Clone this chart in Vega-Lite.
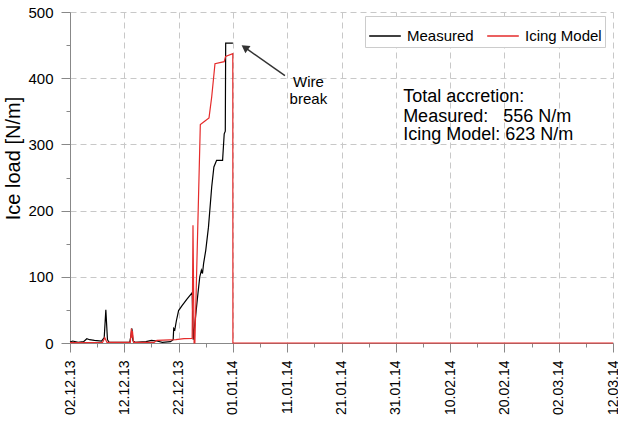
{
  "$schema": "https://vega.github.io/schema/vega-lite/v6.json",
  "width": 543,
  "height": 331,
  "autosize": {"type": "none"},
  "padding": {"left": 70, "top": 12, "right": 5, "bottom": 80},
  "background": "white",
  "config": {"font": "Liberation Sans", "view": {"stroke": null}},
  "datasets": {
    "measured": [
      {"date": "2013-12-02T00:00Z", "load": 1.5, "series": "Measured"},
      {"date": "2013-12-02T12:00Z", "load": 3, "series": "Measured"},
      {"date": "2013-12-03T12:00Z", "load": 1, "series": "Measured"},
      {"date": "2013-12-04T12:00Z", "load": 2, "series": "Measured"},
      {"date": "2013-12-05T02:24Z", "load": 6.5, "series": "Measured"},
      {"date": "2013-12-05T14:24Z", "load": 5, "series": "Measured"},
      {"date": "2013-12-06T12:00Z", "load": 4, "series": "Measured"},
      {"date": "2013-12-07T19:12Z", "load": 3, "series": "Measured"},
      {"date": "2013-12-08T07:12Z", "load": 8, "series": "Measured"},
      {"date": "2013-12-08T14:24Z", "load": 50, "series": "Measured"},
      {"date": "2013-12-08T21:36Z", "load": 5, "series": "Measured"},
      {"date": "2013-12-09T04:48Z", "load": 1, "series": "Measured"},
      {"date": "2013-12-11T00:00Z", "load": 1, "series": "Measured"},
      {"date": "2013-12-13T00:00Z", "load": 1, "series": "Measured"},
      {"date": "2013-12-13T04:48Z", "load": 10, "series": "Measured"},
      {"date": "2013-12-13T09:36Z", "load": 22, "series": "Measured"},
      {"date": "2013-12-13T14:24Z", "load": 3, "series": "Measured"},
      {"date": "2013-12-14T00:00Z", "load": 1, "series": "Measured"},
      {"date": "2013-12-16T00:00Z", "load": 2, "series": "Measured"},
      {"date": "2013-12-17T00:00Z", "load": 4, "series": "Measured"},
      {"date": "2013-12-18T00:00Z", "load": 3, "series": "Measured"},
      {"date": "2013-12-19T00:00Z", "load": 1, "series": "Measured"},
      {"date": "2013-12-20T12:00Z", "load": 2, "series": "Measured"},
      {"date": "2013-12-21T00:00Z", "load": 5, "series": "Measured"},
      {"date": "2013-12-21T02:24Z", "load": 22, "series": "Measured"},
      {"date": "2013-12-21T07:12Z", "load": 20, "series": "Measured"},
      {"date": "2013-12-21T14:24Z", "load": 34, "series": "Measured"},
      {"date": "2013-12-22T00:00Z", "load": 49, "series": "Measured"},
      {"date": "2013-12-22T14:24Z", "load": 56, "series": "Measured"},
      {"date": "2013-12-23T12:00Z", "load": 66, "series": "Measured"},
      {"date": "2013-12-24T09:36Z", "load": 75, "series": "Measured"},
      {"date": "2013-12-24T12:00Z", "load": 76, "series": "Measured"},
      {"date": "2013-12-24T16:48Z", "load": 5, "series": "Measured"},
      {"date": "2013-12-25T00:00Z", "load": 30, "series": "Measured"},
      {"date": "2013-12-25T12:00Z", "load": 70, "series": "Measured"},
      {"date": "2013-12-25T21:36Z", "load": 100, "series": "Measured"},
      {"date": "2013-12-26T04:48Z", "load": 110, "series": "Measured"},
      {"date": "2013-12-26T09:36Z", "load": 105, "series": "Measured"},
      {"date": "2013-12-26T14:24Z", "load": 120, "series": "Measured"},
      {"date": "2013-12-27T00:00Z", "load": 140, "series": "Measured"},
      {"date": "2013-12-27T12:00Z", "load": 175, "series": "Measured"},
      {"date": "2013-12-28T02:24Z", "load": 236, "series": "Measured"},
      {"date": "2013-12-28T12:00Z", "load": 266, "series": "Measured"},
      {"date": "2013-12-29T00:00Z", "load": 276, "series": "Measured"},
      {"date": "2013-12-30T02:24Z", "load": 276, "series": "Measured"},
      {"date": "2013-12-30T09:36Z", "load": 316, "series": "Measured"},
      {"date": "2013-12-30T14:24Z", "load": 320, "series": "Measured"},
      {"date": "2013-12-30T16:05Z", "load": 453, "series": "Measured"},
      {"date": "2014-01-01T00:00Z", "load": 453, "series": "Measured"}
    ],
    "model": [
      {"date": "2013-12-02T00:00Z", "load": 0.5, "series": "Icing Model"},
      {"date": "2013-12-08T00:00Z", "load": 1, "series": "Icing Model"},
      {"date": "2013-12-08T09:36Z", "load": 8, "series": "Icing Model"},
      {"date": "2013-12-08T19:12Z", "load": 1, "series": "Icing Model"},
      {"date": "2013-12-13T02:24Z", "load": 1, "series": "Icing Model"},
      {"date": "2013-12-13T07:12Z", "load": 22, "series": "Icing Model"},
      {"date": "2013-12-13T09:36Z", "load": 8, "series": "Icing Model"},
      {"date": "2013-12-13T12:00Z", "load": 18, "series": "Icing Model"},
      {"date": "2013-12-13T16:48Z", "load": 1, "series": "Icing Model"},
      {"date": "2013-12-17T12:00Z", "load": 1, "series": "Icing Model"},
      {"date": "2013-12-18T00:00Z", "load": 4, "series": "Icing Model"},
      {"date": "2013-12-21T12:00Z", "load": 5, "series": "Icing Model"},
      {"date": "2013-12-23T00:00Z", "load": 6.5, "series": "Icing Model"},
      {"date": "2013-12-24T12:00Z", "load": 7, "series": "Icing Model"},
      {"date": "2013-12-24T15:36Z", "load": 178, "series": "Icing Model"},
      {"date": "2013-12-24T20:24Z", "load": 0, "series": "Icing Model"},
      {"date": "2013-12-25T00:00Z", "load": 0, "series": "Icing Model"},
      {"date": "2013-12-26T00:00Z", "load": 330, "series": "Icing Model"},
      {"date": "2013-12-26T19:12Z", "load": 335, "series": "Icing Model"},
      {"date": "2013-12-27T14:24Z", "load": 340, "series": "Icing Model"},
      {"date": "2013-12-28T02:24Z", "load": 372, "series": "Icing Model"},
      {"date": "2013-12-28T09:36Z", "load": 397, "series": "Icing Model"},
      {"date": "2013-12-28T16:48Z", "load": 422, "series": "Icing Model"},
      {"date": "2013-12-30T09:36Z", "load": 425, "series": "Icing Model"},
      {"date": "2013-12-30T15:36Z", "load": 433, "series": "Icing Model"},
      {"date": "2013-12-31T23:31Z", "load": 437, "series": "Icing Model"},
      {"date": "2014-01-01T00:00Z", "load": 0, "series": "Icing Model"},
      {"date": "2014-03-12T00:00Z", "load": 0, "series": "Icing Model"}
    ]
  },
  "layer": [
    {
      "data": {"name": "measured"},
      "mark": {"type": "line", "strokeWidth": 1.2},
      "encoding": {
        "x": {
          "field": "date", "type": "temporal",
          "scale": {"type": "utc", "domain": [{"year": 2013, "month": 12, "date": 2, "utc": true}, {"year": 2014, "month": 3, "date": 12, "utc": true}]},
          "axis": {
            "title": null,
            "values": [
              {"year": 2013, "month": 12, "date": 2, "utc": true},
              {"year": 2013, "month": 12, "date": 12, "utc": true},
              {"year": 2013, "month": 12, "date": 22, "utc": true},
              {"year": 2014, "month": 1, "date": 1, "utc": true},
              {"year": 2014, "month": 1, "date": 11, "utc": true},
              {"year": 2014, "month": 1, "date": 21, "utc": true},
              {"year": 2014, "month": 1, "date": 31, "utc": true},
              {"year": 2014, "month": 2, "date": 10, "utc": true},
              {"year": 2014, "month": 2, "date": 20, "utc": true},
              {"year": 2014, "month": 3, "date": 2, "utc": true},
              {"year": 2014, "month": 3, "date": 12, "utc": true}
            ],
            "labelExpr": "utcFormat(datum.value, '%d.%m.%y')",
            "labelAngle": 270, "labelAlign": "right", "labelBaseline": "middle",
            "labelFontSize": 14, "labelColor": "#000", "labelPadding": 8,
            "labelFlush": false, "labelOverlap": false,
            "tickSize": 9, "tickColor": "#888", "domainColor": "#888",
            "grid": true, "gridDash": [6, 4], "gridColor": "#c8c8c8"
          }
        },
        "y": {
          "field": "load", "type": "quantitative",
          "scale": {"domain": [0, 500], "nice": false, "zero": true},
          "axis": {
            "title": "Ice load [N/m]", "titleFontSize": 20, "titleFontWeight": "normal",
            "titleColor": "#000", "titleY": 146, "titlePadding": 4,
            "values": [0, 100, 200, 300, 400, 500],
            "labelFontSize": 15, "labelColor": "#000", "labelPadding": 8,
            "tickSize": 9, "tickColor": "#888", "domainColor": "#888",
            "grid": true, "gridDash": [6, 4], "gridColor": "#c8c8c8"
          }
        },
        "color": {
          "field": "series", "type": "nominal",
          "scale": {"domain": ["Measured", "Icing Model"], "range": ["#000000", "#e52b2b"]},
          "legend": {
            "title": null, "orient": "none", "legendX": 295, "legendY": 4,
            "direction": "horizontal", "symbolType": "stroke", "symbolSize": 1000,
            "symbolStrokeWidth": 1.5, "labelFontSize": 15, "labelColor": "#000",
            "strokeColor": "#cccccc", "fillColor": "#ffffff", "padding": 3,
            "columnPadding": 10, "labelOffset": 5
          }
        }
      }
    },
    {
      "data": {"name": "model"},
      "mark": {"type": "line", "strokeWidth": 1.2},
      "encoding": {
        "x": {
          "field": "date", "type": "temporal",
          "axis": {
            "orient": "bottom", "title": null, "labels": false, "grid": false, "domain": false,
            "tickSize": 4, "tickColor": "#888",
            "values": [
              {"year": 2013, "month": 12, "date": 7, "utc": true},
              {"year": 2013, "month": 12, "date": 17, "utc": true},
              {"year": 2013, "month": 12, "date": 27, "utc": true},
              {"year": 2014, "month": 1, "date": 6, "utc": true},
              {"year": 2014, "month": 1, "date": 16, "utc": true},
              {"year": 2014, "month": 1, "date": 26, "utc": true},
              {"year": 2014, "month": 2, "date": 5, "utc": true},
              {"year": 2014, "month": 2, "date": 15, "utc": true},
              {"year": 2014, "month": 2, "date": 25, "utc": true},
              {"year": 2014, "month": 3, "date": 7, "utc": true}
            ]
          }
        },
        "y": {
          "field": "load", "type": "quantitative",
          "axis": {
            "orient": "left", "title": null, "labels": false, "grid": false, "domain": false,
            "tickSize": 4, "tickColor": "#888", "values": [50, 150, 250, 350, 450]
          }
        },
        "color": {"field": "series", "type": "nominal"}
      }
    },
    {
      "data": {"values": [{"date": "2014-01-10T14:00Z", "load": 404, "date2": "2014-01-03T04:34Z", "load2": 446.4}]},
      "mark": {"type": "rule", "color": "#333333", "strokeWidth": 1.5},
      "encoding": {
        "x": {"field": "date", "type": "temporal", "axis": null},
        "y": {"field": "load", "type": "quantitative", "axis": null},
        "x2": {"field": "date2"},
        "y2": {"field": "load2"}
      }
    },
    {
      "data": {"values": [{"date": "2014-01-03T04:34Z", "load": 446.4}]},
      "mark": {"type": "point", "shape": "triangle-up", "size": 80, "angle": 305, "filled": true, "color": "#333333", "opacity": 1},
      "encoding": {
        "x": {"field": "date", "type": "temporal", "axis": null},
        "y": {"field": "load", "type": "quantitative", "axis": null}
      }
    },
    {
      "data": {"values": [
        {"date": "2014-01-14T21:36Z", "load": 386.3, "text": "Wire"},
        {"date": "2014-01-14T21:36Z", "load": 360.3, "text": "break"}
      ]},
      "mark": {"type": "text", "fontSize": 15, "align": "center", "baseline": "alphabetic", "color": "#000"},
      "encoding": {
        "x": {"field": "date", "type": "temporal", "axis": null},
        "y": {"field": "load", "type": "quantitative", "axis": null},
        "text": {"field": "text"}
      }
    },
    {
      "data": {"values": [
        {"date": "2014-02-01T08:24Z", "load": 364, "text": "Total accretion:"},
        {"date": "2014-02-01T08:24Z", "load": 333.8, "text": "Measured:\u00a0\u00a0\u00a0556 N/m"},
        {"date": "2014-02-01T08:24Z", "load": 306, "text": "Icing Model: 623 N/m"}
      ]},
      "mark": {"type": "text", "fontSize": 18, "align": "left", "baseline": "alphabetic", "color": "#000"},
      "encoding": {
        "x": {"field": "date", "type": "temporal", "axis": null},
        "y": {"field": "load", "type": "quantitative", "axis": null},
        "text": {"field": "text"}
      }
    }
  ],
  "resolve": {"axis": {"x": "independent", "y": "independent"}}
}
